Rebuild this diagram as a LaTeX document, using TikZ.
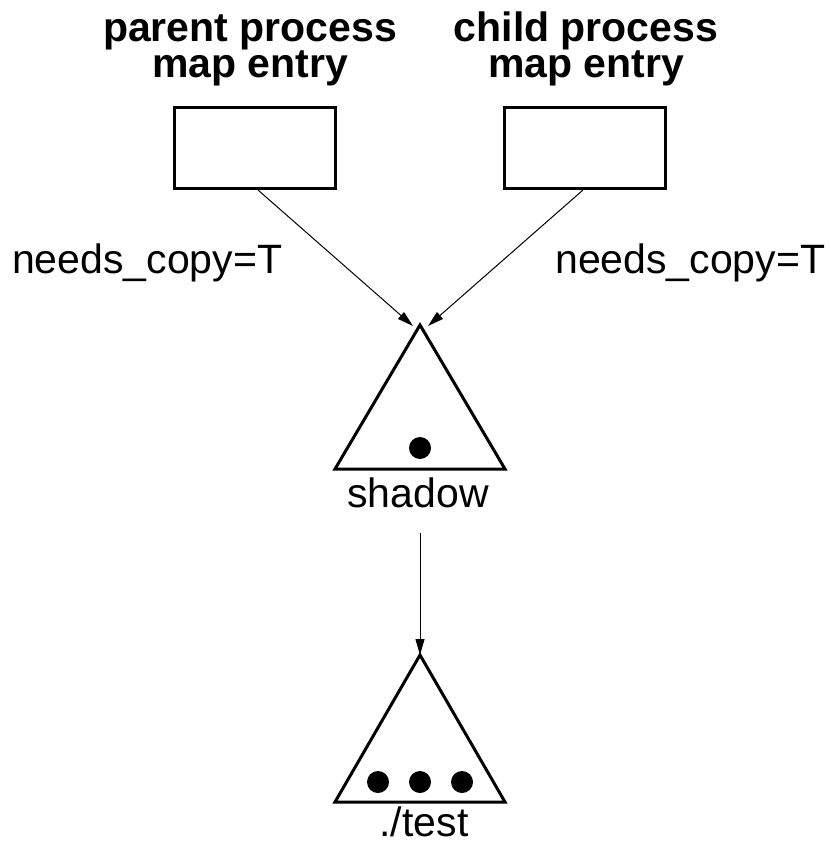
\documentclass[tikz,border=0pt]{standalone}
\usepackage{fontspec}
\setmainfont{Liberation Sans}
\usetikzlibrary{arrows.meta}
\begin{document}
\begin{tikzpicture}[x=1pt,y=-1pt,
  lbl/.style={inner sep=0pt,anchor=base,font=\fontsize{41}{41}\selectfont},
  hdr/.style={inner sep=0pt,anchor=base,align=center,font=\fontsize{41}{36}\selectfont\bfseries},
  entrybox/.style={draw,line width=3pt,minimum width=161pt,minimum height=81pt,inner sep=0pt},
  tri/.style={line width=3pt,line join=miter},
  dot/.style={circle,fill=black,minimum size=22pt,inner sep=0pt},
  link/.style={line width=1pt,-{Triangle[length=16pt,width=9pt]}}]
\useasboundingbox (0,0) rectangle (830,845);

% headings (anchored on the baseline of the last line)
\node[hdr] (ph) at (250,78) {parent process\\map entry};
\node[hdr] (ch) at (586,78) {child process\\map entry};

% map entries
\node[entrybox] (parent) at (255,148) {};
\node[entrybox] (child) at (585,148) {};

% edge labels
\node[lbl,anchor=base west] (lneed) at (12,273) {needs\_copy=T};
\node[lbl,anchor=base west] (rneed) at (555,273) {needs\_copy=T};

% shadow object
\coordinate (sA) at (420,325);
\coordinate (sL) at (335,469);
\coordinate (sR) at (505,469);
\draw[tri] (sA) -- (sL) -- (sR) -- cycle;
\node[dot] (sd) at (420,448) {};
\node[lbl] (shadow) at (418,507) {shadow};
\coordinate (sin1) at (413,326);
\coordinate (sin2) at (428,326);

% ./test object
\coordinate (tA) at (420,655);
\coordinate (tL) at (335,802);
\coordinate (tR) at (505,802);
\draw[tri] (tA) -- (tL) -- (tR) -- cycle;
\node[dot] (td1) at (378,782) {};
\node[dot] (td2) at (420,782) {};
\node[dot] (td3) at (462,782) {};
\node[lbl] (test) at (424,836) {./test};

% connectors
\coordinate (pout) at (258,190);
\coordinate (cout) at (583,190);
\coordinate (sout) at (420,533);
\draw[link] (pout) -- (sin1);
\draw[link] (cout) -- (sin2);
\draw[link] (sout) -- (tA);
\end{tikzpicture}
\end{document}
